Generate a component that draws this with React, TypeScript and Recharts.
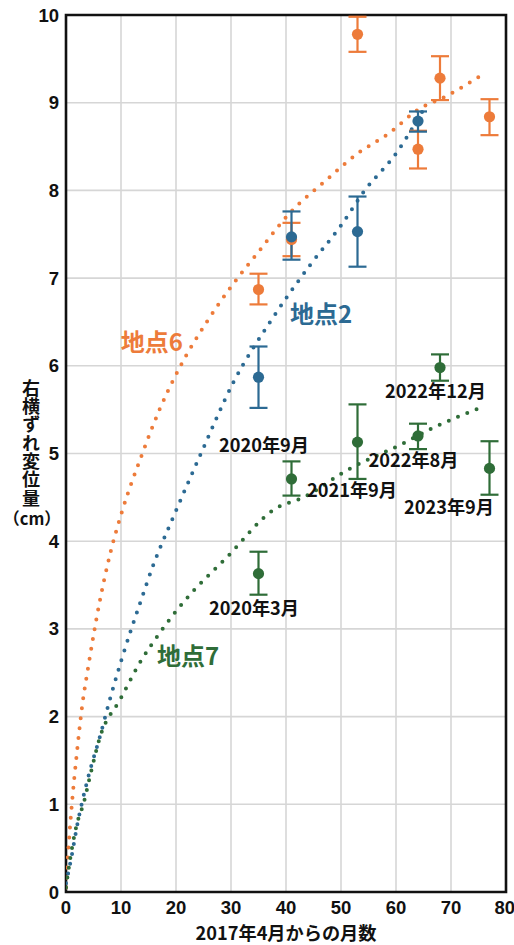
import {
  ComposedChart,
  CartesianGrid,
  ErrorBar,
  LabelList,
  Line,
  ReferenceArea,
  ReferenceDot,
  Scatter,
  XAxis,
  YAxis,
} from "recharts"

const ORANGE = "#ED7B3A"
const BLUE = "#2C6A93"
const GREEN = "#2F6D38"
const INK = "#111111"
const CJK = '"Noto Sans CJK JP", "Noto Sans", sans-serif'
const LATIN = '"Liberation Sans", Arial, sans-serif'

// months since April 2017
const months = [35, 41, 53, 64, 68, 77]
const site2Months = [35, 41, 53, 64]

// site 6 (orange)
const site6Value = [6.87, 7.44, 9.78, 8.47, 9.28, 8.84]
const site6Low = [6.7, 7.25, 9.58, 8.25, 9.03, 8.63]
const site6High = [7.05, 7.63, 9.98, 8.68, 9.53, 9.04]

// site 2 (blue)
const site2Value = [5.87, 7.47, 7.53, 8.79]
const site2Low = [5.52, 7.21, 7.13, 8.67]
const site2High = [6.22, 7.76, 7.93, 8.9]

// site 7 (green)
const site7Value = [3.63, 4.71, 5.13, 5.2, 5.98, 4.83]
const site7Low = [3.39, 4.52, 4.71, 5.05, 5.83, 4.53]
const site7High = [3.88, 4.91, 5.56, 5.34, 6.13, 5.14]
const site7Dates = ["2020年3月", "2020年9月", "2021年9月", "2022年8月", "2022年12月", "2023年9月"]

// fitted trend curves
const curve6X = [0, 0.5, 1, 2, 3, 4, 6, 8, 10, 14, 17, 20.5, 26, 30, 35, 40.8, 47, 53, 58.7, 64, 69.3, 76]
const curve6Y = [0.05, 0.55, 0.95, 1.6, 2.15, 2.55, 3.27, 3.85, 4.3, 5.02, 5.5, 5.96, 6.54, 6.9, 7.3, 7.75, 8.1, 8.42, 8.65, 8.92, 9.08, 9.33]
const curve2X = [0, 1, 2, 4, 6.2, 8, 10.1, 13.5, 16, 19.4, 24.4, 30.5, 37, 44.4, 50, 54.2, 60, 64.8]
const curve2Y = [0.1, 0.4, 0.75, 1.3, 1.78, 2.2, 2.65, 3.3, 3.75, 4.26, 4.98, 5.82, 6.49, 7.15, 7.6, 7.99, 8.42, 8.9]
const curve7X = [0, 0.4, 2, 3.2, 4.4, 6.2, 9.8, 13.2, 17.1, 21.7, 29.3, 37.8, 43.5, 51.1, 60.8, 67, 75.7]
const curve7Y = [0.05, 0.23, 0.78, 1.01, 1.33, 1.77, 2.19, 2.59, 2.96, 3.33, 3.82, 4.36, 4.51, 4.81, 5.1, 5.3, 5.53]

const xTicks = [0, 10, 20, 30, 40, 50, 60, 70, 80]
const yTicks = [0, 1, 2, 3, 4, 5, 6, 7, 8, 9, 10]
const yTitle = "右横ずれ変位量"
const yUnit = "（cm）"

// site name tags (data coordinates)
const siteTags = [
  { name: "地点6", x: 15.6, y: 6.27, color: ORANGE },
  { name: "地点2", x: 46.4, y: 6.59, color: BLUE },
  { name: "地点7", x: 22.2, y: 2.68, color: GREEN },
]

// pixel offsets of the date labels from their green points
const dateOffsets = [
  [0, 38],
  [-23, -30],
  [-1, 51],
  [0, 28],
  [0, 27],
  [-36, 42],
]

const points = (xs: number[], vals: number[], lo: number[], hi: number[], labels?: string[]) =>
  xs.map((x, i) => ({
    x,
    y: vals[i],
    err: [vals[i] - lo[i], hi[i] - vals[i]],
    label: labels ? labels[i] : "",
  }))

const curve = (xs: number[], ys: number[]) => xs.map((x, i) => ({ x, y: ys[i] }))

const site6 = points(months, site6Value, site6Low, site6High)
const site2 = points(site2Months, site2Value, site2Low, site2High)
const site7 = points(months, site7Value, site7Low, site7High, site7Dates)

const dotShape = (color: string) => (props: any) =>
  <circle cx={props.cx} cy={props.cy} r={5.6} fill={color} />

const DateLabel = (props: any) => {
  const { x, y, value, index } = props
  const [dx, dy] = dateOffsets[index] ?? [0, 0]
  return (
    <text
      x={x + dx}
      y={y + dy}
      textAnchor="middle"
      dominantBaseline="central"
      fontFamily={CJK}
      fontWeight={700}
      fontSize={18.2}
      fill={INK}
    >
      {value}
    </text>
  )
}

// vertical axis title set in vertical writing mode, unit below it
const YTitle = () => (
  <g fontFamily={CJK} fontWeight={700} fill={INK}>
    <text x={31} y={379} fontSize={18} style={{ writingMode: "vertical-rl" }} letterSpacing={0.3}>
      {yTitle}
    </text>
    <text x={32} y={518} fontSize={16.5} textAnchor="middle" dominantBaseline="central">
      {yUnit}
    </text>
  </g>
)

const dotted = {
  strokeWidth: 4,
  strokeDasharray: "0 10",
  strokeLinecap: "round" as const,
  dot: false,
  activeDot: false,
  isAnimationActive: false,
  type: "monotone" as const,
}

export default function App() {
  return (
    <div style={{ position: "absolute", left: 0, top: 0, width: 514, height: 945, background: "#fff" }}>
      <ComposedChart width={514} height={945} margin={{ top: 15, right: 8, bottom: 0, left: 0 }}>
        <CartesianGrid stroke="#d6d6d6" strokeWidth={1.6} />
        <XAxis
          type="number"
          dataKey="x"
          domain={[0, 80]}
          ticks={xTicks}
          allowDataOverflow
          height={53}
          tickSize={0}
          tickMargin={9}
          axisLine={false}
          tickLine={false}
          tick={{ fill: INK, fontSize: 18.5, fontWeight: 700, fontFamily: LATIN }}
          label={{
            value: "2017年4月からの月数",
            position: "insideBottom",
            offset: 5,
            fill: INK,
            fontSize: 18.2,
            fontWeight: 700,
            fontFamily: CJK,
          }}
        />
        <YAxis
          type="number"
          dataKey="y"
          domain={[0, 10]}
          ticks={yTicks}
          allowDataOverflow
          width={66}
          tickSize={0}
          tickMargin={7}
          axisLine={false}
          tickLine={false}
          tick={{ fill: INK, fontSize: 18.5, fontWeight: 700, fontFamily: LATIN }}
          label={<YTitle />}
        />
        <Line data={curve(curve6X, curve6Y)} dataKey="y" stroke={ORANGE} {...dotted} />
        <Line data={curve(curve2X, curve2Y)} dataKey="y" stroke={BLUE} {...dotted} />
        <Line data={curve(curve7X, curve7Y)} dataKey="y" stroke={GREEN} {...dotted} />
        <Scatter data={site6} dataKey="y" shape={dotShape(ORANGE)} isAnimationActive={false}>
          <ErrorBar dataKey="err" direction="y" width={9} strokeWidth={2.2} stroke={ORANGE} isAnimationActive={false} />
        </Scatter>
        <Scatter data={site7} dataKey="y" shape={dotShape(GREEN)} isAnimationActive={false}>
          <ErrorBar dataKey="err" direction="y" width={9} strokeWidth={2.2} stroke={GREEN} isAnimationActive={false} />
          <LabelList dataKey="label" content={<DateLabel />} />
        </Scatter>
        <Scatter data={site2} dataKey="y" shape={dotShape(BLUE)} isAnimationActive={false}>
          <ErrorBar dataKey="err" direction="y" width={9} strokeWidth={2.2} stroke={BLUE} isAnimationActive={false} />
        </Scatter>
        {siteTags.map((t) => (
          <ReferenceDot
            key={t.name}
            x={t.x}
            y={t.y}
            r={0}
            fill="none"
            stroke="none"
            label={{
              value: t.name,
              position: "center",
              fill: t.color,
              fontSize: 24,
              fontWeight: 700,
              fontFamily: CJK,
            }}
          />
        ))}
        <ReferenceArea x1={0} x2={80} y1={0} y2={10} fill="none" stroke="#111" strokeWidth={2.6} ifOverflow="visible" />
      </ComposedChart>
    </div>
  )
}
